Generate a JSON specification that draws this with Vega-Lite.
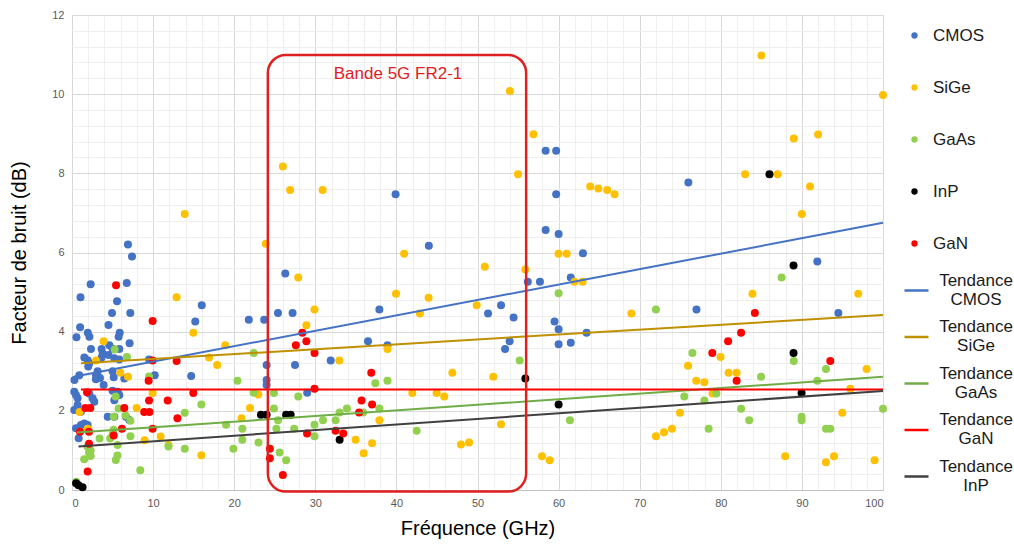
{
  "$schema": "https://vega.github.io/schema/vega-lite/v6.json",
  "autosize": {"type": "none"},
  "width": 811,
  "height": 475,
  "padding": {"left": 72, "top": 15, "right": 131, "bottom": 58},
  "background": "white",
  "config": {
    "view": {"stroke": null},
    "font": "Liberation Sans",
    "axis": {"labelFont": "Liberation Sans", "titleFont": "Liberation Sans"},
    "legend": {"labelFont": "Liberation Sans"}
  },
  "datasets": {
    "pts": [
      {"t":"CMOS","x":7.4,"y":5.9},{"t":"CMOS","x":6.9,"y":6.2},{"t":"CMOS","x":2.3,"y":5.2},{"t":"CMOS","x":6.75,"y":5.23},{"t":"CMOS","x":1.05,"y":4.87},{"t":"CMOS","x":5.55,"y":4.77},{"t":"CMOS","x":4.93,"y":4.47},{"t":"CMOS","x":7.19,"y":4.47},{"t":"CMOS","x":4.5,"y":4.17},{"t":"CMOS","x":1.0,"y":4.11},{"t":"CMOS","x":1.95,"y":3.97},{"t":"CMOS","x":2.15,"y":3.87},{"t":"CMOS","x":0.55,"y":3.86},{"t":"CMOS","x":5.88,"y":3.97},{"t":"CMOS","x":5.75,"y":3.87},{"t":"CMOS","x":7.1,"y":3.71},{"t":"CMOS","x":4.6,"y":3.66},{"t":"CMOS","x":5.0,"y":3.57},{"t":"CMOS","x":2.34,"y":3.56},{"t":"CMOS","x":3.65,"y":3.56},{"t":"CMOS","x":3.78,"y":3.45},{"t":"CMOS","x":3.65,"y":3.35},{"t":"CMOS","x":5.83,"y":3.56},{"t":"CMOS","x":1.52,"y":3.35},{"t":"CMOS","x":1.93,"y":3.28},{"t":"CMOS","x":2.13,"y":3.2},{"t":"CMOS","x":2.0,"y":3.12},{"t":"CMOS","x":5.22,"y":3.33},{"t":"CMOS","x":5.83,"y":3.3},{"t":"CMOS","x":4.51,"y":3.41},{"t":"CMOS","x":3.16,"y":3.0},{"t":"CMOS","x":2.96,"y":2.9},{"t":"CMOS","x":3.45,"y":2.83},{"t":"CMOS","x":0.9,"y":2.9},{"t":"CMOS","x":10.2,"y":2.9},{"t":"CMOS","x":5.0,"y":3.0},{"t":"CMOS","x":5.14,"y":2.85},{"t":"CMOS","x":6.45,"y":2.82},{"t":"CMOS","x":0.3,"y":2.78},{"t":"CMOS","x":2.95,"y":2.8},{"t":"CMOS","x":0.28,"y":2.48},{"t":"CMOS","x":0.49,"y":2.4},{"t":"CMOS","x":0.69,"y":2.32},{"t":"CMOS","x":2.13,"y":2.44},{"t":"CMOS","x":2.54,"y":2.32},{"t":"CMOS","x":2.75,"y":2.23},{"t":"CMOS","x":5.0,"y":2.51},{"t":"CMOS","x":5.63,"y":2.48},{"t":"CMOS","x":5.42,"y":2.36},{"t":"CMOS","x":5.22,"y":2.27},{"t":"CMOS","x":5.83,"y":2.4},{"t":"CMOS","x":3.9,"y":2.65},{"t":"CMOS","x":0.69,"y":2.15},{"t":"CMOS","x":0.28,"y":2.02},{"t":"CMOS","x":1.1,"y":1.98},{"t":"CMOS","x":4.4,"y":1.85},{"t":"CMOS","x":5.22,"y":1.85},{"t":"CMOS","x":6.65,"y":1.85},{"t":"CMOS","x":7.07,"y":1.77},{"t":"CMOS","x":0.49,"y":1.56},{"t":"CMOS","x":1.1,"y":1.64},{"t":"CMOS","x":1.52,"y":1.68},{"t":"CMOS","x":1.93,"y":1.64},{"t":"CMOS","x":0.82,"y":1.31},{"t":"CMOS","x":9.5,"y":3.3},
      {"t":"CMOS","x":14.7,"y":2.88},{"t":"CMOS","x":15.2,"y":4.26},{"t":"CMOS","x":16.0,"y":4.67},{"t":"CMOS","x":21.8,"y":4.3},{"t":"CMOS","x":23.7,"y":4.3},{"t":"CMOS","x":24.0,"y":3.16},{"t":"CMOS","x":24.0,"y":2.78},{"t":"CMOS","x":24.0,"y":2.65},{"t":"CMOS","x":25.4,"y":4.47},{"t":"CMOS","x":26.3,"y":5.47},{"t":"CMOS","x":27.2,"y":4.47},{"t":"CMOS","x":37.9,"y":4.56},{"t":"CMOS","x":36.5,"y":3.76},{"t":"CMOS","x":38.9,"y":3.66},{"t":"CMOS","x":27.5,"y":3.16},{"t":"CMOS","x":31.9,"y":3.27},{"t":"CMOS","x":29.0,"y":2.46},{"t":"CMOS","x":39.9,"y":7.47},{"t":"CMOS","x":44.0,"y":6.17},{"t":"CMOS","x":58.4,"y":8.57},{"t":"CMOS","x":59.7,"y":8.57},{"t":"CMOS","x":59.7,"y":7.47},{"t":"CMOS","x":58.4,"y":6.57},{"t":"CMOS","x":60.0,"y":6.47},{"t":"CMOS","x":63.0,"y":5.98},{"t":"CMOS","x":76.0,"y":7.77},{"t":"CMOS","x":56.2,"y":5.26},{"t":"CMOS","x":57.7,"y":5.26},{"t":"CMOS","x":61.5,"y":5.37},{"t":"CMOS","x":51.3,"y":4.46},{"t":"CMOS","x":52.9,"y":4.67},{"t":"CMOS","x":54.45,"y":4.36},{"t":"CMOS","x":59.5,"y":4.26},{"t":"CMOS","x":60.0,"y":4.06},{"t":"CMOS","x":53.96,"y":3.76},{"t":"CMOS","x":53.4,"y":3.56},{"t":"CMOS","x":60.0,"y":3.68},{"t":"CMOS","x":61.5,"y":3.72},{"t":"CMOS","x":63.45,"y":3.97},{"t":"CMOS","x":77.0,"y":4.56},{"t":"CMOS","x":91.9,"y":5.77},{"t":"CMOS","x":94.5,"y":4.47},
      {"t":"SiGe","x":13.9,"y":6.97},{"t":"SiGe","x":23.9,"y":6.22},{"t":"SiGe","x":26.0,"y":8.17},{"t":"SiGe","x":26.9,"y":7.58},{"t":"SiGe","x":30.9,"y":7.58},{"t":"SiGe","x":40.95,"y":5.97},{"t":"SiGe","x":54.0,"y":10.08},{"t":"SiGe","x":56.9,"y":8.99},{"t":"SiGe","x":55.0,"y":7.98},{"t":"SiGe","x":63.9,"y":7.67},{"t":"SiGe","x":64.9,"y":7.62},{"t":"SiGe","x":66.0,"y":7.58},{"t":"SiGe","x":66.9,"y":7.47},{"t":"SiGe","x":60.0,"y":5.97},{"t":"SiGe","x":61.0,"y":5.97},{"t":"SiGe","x":85.0,"y":10.98},{"t":"SiGe","x":100,"y":9.98},{"t":"SiGe","x":89.0,"y":8.88},{"t":"SiGe","x":92.0,"y":8.98},{"t":"SiGe","x":83.0,"y":7.98},{"t":"SiGe","x":87.0,"y":7.98},{"t":"SiGe","x":91.0,"y":7.67},{"t":"SiGe","x":90.0,"y":6.97},
      {"t":"SiGe","x":12.9,"y":4.87},{"t":"SiGe","x":14.96,"y":3.97},{"t":"SiGe","x":3.9,"y":3.76},{"t":"SiGe","x":2.96,"y":3.27},{"t":"SiGe","x":18.9,"y":3.66},{"t":"SiGe","x":16.9,"y":3.35},{"t":"SiGe","x":17.9,"y":3.16},{"t":"SiGe","x":5.96,"y":2.96},{"t":"SiGe","x":6.9,"y":2.86},{"t":"SiGe","x":9.94,"y":2.45},{"t":"SiGe","x":22.97,"y":2.41},{"t":"SiGe","x":0.94,"y":1.97},{"t":"SiGe","x":7.97,"y":2.07},{"t":"SiGe","x":21.95,"y":2.07},{"t":"SiGe","x":20.9,"y":1.81},{"t":"SiGe","x":1.93,"y":1.55},{"t":"SiGe","x":10.93,"y":1.35},{"t":"SiGe","x":8.95,"y":1.26},{"t":"SiGe","x":11.9,"y":1.14},{"t":"SiGe","x":15.95,"y":0.88},
      {"t":"SiGe","x":27.9,"y":5.37},{"t":"SiGe","x":39.95,"y":4.96},{"t":"SiGe","x":43.97,"y":4.86},{"t":"SiGe","x":29.9,"y":4.56},{"t":"SiGe","x":42.9,"y":4.46},{"t":"SiGe","x":49.9,"y":4.67},{"t":"SiGe","x":50.9,"y":5.64},{"t":"SiGe","x":28.9,"y":4.16},{"t":"SiGe","x":38.9,"y":3.56},{"t":"SiGe","x":32.96,"y":3.27},{"t":"SiGe","x":46.9,"y":2.96},{"t":"SiGe","x":41.96,"y":2.45},{"t":"SiGe","x":44.96,"y":2.45},{"t":"SiGe","x":45.9,"y":2.36},{"t":"SiGe","x":37.9,"y":1.76},{"t":"SiGe","x":34.97,"y":1.27},{"t":"SiGe","x":37.0,"y":1.18},{"t":"SiGe","x":35.96,"y":0.93},{"t":"SiGe","x":47.96,"y":1.15},{"t":"SiGe","x":48.96,"y":1.2},
      {"t":"SiGe","x":55.9,"y":5.57},{"t":"SiGe","x":61.97,"y":5.26},{"t":"SiGe","x":62.96,"y":5.26},{"t":"SiGe","x":68.97,"y":4.46},{"t":"SiGe","x":51.95,"y":2.86},{"t":"SiGe","x":52.9,"y":1.66},{"t":"SiGe","x":57.95,"y":0.85},{"t":"SiGe","x":58.9,"y":0.75},{"t":"SiGe","x":72.0,"y":1.36},{"t":"SiGe","x":73.0,"y":1.46},{"t":"SiGe","x":73.98,"y":1.55},{"t":"SiGe","x":74.97,"y":1.95},{"t":"SiGe","x":75.96,"y":3.14},{"t":"SiGe","x":76.97,"y":2.76},{"t":"SiGe","x":77.97,"y":2.72},{"t":"SiGe","x":83.9,"y":4.96},{"t":"SiGe","x":96.95,"y":4.96},{"t":"SiGe","x":79.97,"y":3.36},{"t":"SiGe","x":80.96,"y":2.96},{"t":"SiGe","x":81.95,"y":2.96},{"t":"SiGe","x":78.98,"y":2.44},{"t":"SiGe","x":97.98,"y":3.06},{"t":"SiGe","x":95.97,"y":2.56},{"t":"SiGe","x":94.98,"y":1.95},{"t":"SiGe","x":87.95,"y":0.85},{"t":"SiGe","x":92.97,"y":0.7},{"t":"SiGe","x":93.96,"y":0.85},{"t":"SiGe","x":98.96,"y":0.75},
      {"t":"GaAs","x":5.26,"y":3.55},{"t":"GaAs","x":6.78,"y":3.36},{"t":"GaAs","x":9.5,"y":2.87},{"t":"GaAs","x":22.4,"y":3.46},{"t":"GaAs","x":20.4,"y":2.76},{"t":"GaAs","x":22.4,"y":2.46},{"t":"GaAs","x":24.9,"y":2.45},{"t":"GaAs","x":15.95,"y":2.16},{"t":"GaAs","x":13.9,"y":1.95},{"t":"GaAs","x":5.38,"y":2.36},{"t":"GaAs","x":5.75,"y":2.06},{"t":"GaAs","x":6.6,"y":1.88},{"t":"GaAs","x":7.2,"y":1.75},{"t":"GaAs","x":5.14,"y":1.85},{"t":"GaAs","x":19.0,"y":1.65},{"t":"GaAs","x":21.0,"y":1.55},{"t":"GaAs","x":5.14,"y":1.52},{"t":"GaAs","x":3.4,"y":1.3},{"t":"GaAs","x":4.7,"y":1.3},{"t":"GaAs","x":5.0,"y":1.4},{"t":"GaAs","x":5.62,"y":1.14},{"t":"GaAs","x":2.3,"y":1.0},{"t":"GaAs","x":2.1,"y":0.94},{"t":"GaAs","x":2.3,"y":0.86},{"t":"GaAs","x":1.5,"y":0.78},{"t":"GaAs","x":5.6,"y":0.87},{"t":"GaAs","x":5.4,"y":0.76},{"t":"GaAs","x":8.42,"y":0.5},{"t":"GaAs","x":11.9,"y":1.1},{"t":"GaAs","x":13.9,"y":1.04},{"t":"GaAs","x":19.9,"y":1.04},{"t":"GaAs","x":21.0,"y":1.27},{"t":"GaAs","x":23.0,"y":1.2},{"t":"GaAs","x":0.53,"y":0.21},{"t":"GaAs","x":1.9,"y":1.1},{"t":"GaAs","x":7.2,"y":1.36},
      {"t":"GaAs","x":24.9,"y":2.06},{"t":"GaAs","x":27.9,"y":2.36},{"t":"GaAs","x":25.4,"y":1.76},{"t":"GaAs","x":25.2,"y":1.55},{"t":"GaAs","x":27.4,"y":1.55},{"t":"GaAs","x":29.9,"y":1.65},{"t":"GaAs","x":29.9,"y":1.36},{"t":"GaAs","x":30.95,"y":1.76},{"t":"GaAs","x":32.5,"y":1.76},{"t":"GaAs","x":33.0,"y":1.96},{"t":"GaAs","x":33.9,"y":2.06},{"t":"GaAs","x":35.9,"y":1.96},{"t":"GaAs","x":37.9,"y":2.06},{"t":"GaAs","x":37.4,"y":2.7},{"t":"GaAs","x":38.9,"y":2.76},{"t":"GaAs","x":42.5,"y":1.5},{"t":"GaAs","x":25.6,"y":0.95},{"t":"GaAs","x":26.4,"y":0.75},
      {"t":"GaAs","x":60.0,"y":4.97},{"t":"GaAs","x":72.0,"y":4.56},{"t":"GaAs","x":55.2,"y":3.27},{"t":"GaAs","x":61.4,"y":1.76},{"t":"GaAs","x":75.5,"y":2.36},{"t":"GaAs","x":76.5,"y":3.46},
      {"t":"GaAs","x":87.5,"y":5.37},{"t":"GaAs","x":89.0,"y":3.26},{"t":"GaAs","x":92.97,"y":3.06},{"t":"GaAs","x":84.96,"y":2.86},{"t":"GaAs","x":91.9,"y":2.76},{"t":"GaAs","x":79.45,"y":2.44},{"t":"GaAs","x":77.97,"y":2.26},{"t":"GaAs","x":82.5,"y":2.05},{"t":"GaAs","x":83.5,"y":1.76},{"t":"GaAs","x":89.96,"y":1.85},{"t":"GaAs","x":89.96,"y":1.76},{"t":"GaAs","x":78.5,"y":1.55},{"t":"GaAs","x":92.97,"y":1.55},{"t":"GaAs","x":93.5,"y":1.55},{"t":"GaAs","x":100,"y":2.05},
      {"t":"InP","x":0.5,"y":0.17},{"t":"InP","x":0.8,"y":0.12},{"t":"InP","x":1.3,"y":0.07},{"t":"InP","x":23.3,"y":1.9},{"t":"InP","x":24.0,"y":1.9},{"t":"InP","x":26.4,"y":1.9},{"t":"InP","x":26.96,"y":1.9},{"t":"InP","x":33.0,"y":1.27},{"t":"InP","x":55.9,"y":2.82},{"t":"InP","x":60.0,"y":2.16},{"t":"InP","x":86.0,"y":7.98},{"t":"InP","x":88.97,"y":5.67},{"t":"InP","x":88.97,"y":3.46},{"t":"InP","x":89.96,"y":2.45},
      {"t":"GaN","x":5.43,"y":5.17},{"t":"GaN","x":9.94,"y":4.27},{"t":"GaN","x":12.9,"y":3.26},{"t":"GaN","x":9.94,"y":3.27},{"t":"GaN","x":9.45,"y":2.76},{"t":"GaN","x":1.85,"y":2.47},{"t":"GaN","x":14.96,"y":2.45},{"t":"GaN","x":11.8,"y":2.26},{"t":"GaN","x":9.5,"y":2.26},{"t":"GaN","x":1.64,"y":2.07},{"t":"GaN","x":2.26,"y":2.07},{"t":"GaN","x":6.45,"y":2.07},{"t":"GaN","x":8.9,"y":1.97},{"t":"GaN","x":9.55,"y":1.97},{"t":"GaN","x":13.0,"y":1.81},{"t":"GaN","x":6.16,"y":1.55},{"t":"GaN","x":9.94,"y":1.55},{"t":"GaN","x":0.98,"y":1.47},{"t":"GaN","x":2.1,"y":1.47},{"t":"GaN","x":5.14,"y":1.38},{"t":"GaN","x":2.1,"y":1.17},{"t":"GaN","x":1.93,"y":0.47},{"t":"GaN","x":24.4,"y":1.04},{"t":"GaN","x":24.4,"y":0.8},
      {"t":"GaN","x":28.4,"y":3.97},{"t":"GaN","x":28.9,"y":3.76},{"t":"GaN","x":27.6,"y":3.66},{"t":"GaN","x":29.9,"y":3.46},{"t":"GaN","x":29.9,"y":2.56},{"t":"GaN","x":36.9,"y":2.96},{"t":"GaN","x":35.7,"y":2.26},{"t":"GaN","x":37.0,"y":2.16},{"t":"GaN","x":35.4,"y":1.96},{"t":"GaN","x":32.5,"y":1.5},{"t":"GaN","x":33.45,"y":1.43},{"t":"GaN","x":28.98,"y":1.43},{"t":"GaN","x":26.0,"y":0.38},
      {"t":"GaN","x":84.2,"y":4.47},{"t":"GaN","x":82.5,"y":3.97},{"t":"GaN","x":80.9,"y":3.76},{"t":"GaN","x":78.95,"y":3.46},{"t":"GaN","x":81.95,"y":2.76},{"t":"GaN","x":93.5,"y":3.26}
    ],
    "trends": [
      {"trend":"Tendance CMOS","x":0.2,"y":2.86},{"trend":"Tendance CMOS","x":100,"y":6.75},
      {"trend":"Tendance SiGe","x":1.1,"y":3.2},{"trend":"Tendance SiGe","x":100,"y":4.42},
      {"trend":"Tendance GaAs","x":0.6,"y":1.45},{"trend":"Tendance GaAs","x":100,"y":2.86},
      {"trend":"Tendance GaN","x":1.1,"y":2.54},{"trend":"Tendance GaN","x":100,"y":2.54},
      {"trend":"Tendance InP","x":0.8,"y":1.1},{"trend":"Tendance InP","x":100,"y":2.5}
    ],
    "band": [{"x":24.15,"x2":56.0,"y":-0.04,"y2":10.99,"label":"Bande 5G FR2-1","lx":40.2,"ly":10.5}]
  },
  "layer": [
    {
      "data": {"name": "pts"},
      "mark": {"type": "circle", "size": 64, "opacity": 1},
      "encoding": {
        "x": {
          "field": "x", "type": "quantitative",
          "scale": {"domain": [0, 100], "nice": false, "zero": false},
          "axis": {
            "title": "Fréquence (GHz)",
            "titleFontSize": 20, "titleFontWeight": "normal", "titleColor": "#000000", "titlePadding": 10,
            "values": [0,2,4,6,8,10,12,14,16,18,20,22,24,26,28,30,32,34,36,38,40,42,44,46,48,50,52,54,56,58,60,62,64,66,68,70,72,74,76,78,80,82,84,86,88,90,92,94,96,98,100],
            "tickCount": 200,
            "labelExpr": "datum.value % 10 === 0 ? '' + round(datum.value) : ''",
            "labelFontSize": 11, "labelColor": "#595959", "labelPadding": 7, "labelOverlap": false,
            "ticks": false, "domainColor": "#BFBFBF", "domainWidth": 1,
            "grid": true,
            "gridColor": {"condition": {"test": "datum.value % 10 === 0", "value": "#D9D9D9"}, "value": "#EFEFEF"},
            "gridWidth": 1
          }
        },
        "y": {
          "field": "y", "type": "quantitative",
          "scale": {"domain": [0, 12], "nice": false},
          "axis": {
            "title": "Facteur de bruit (dB)",
            "titleFontSize": 20, "titleFontWeight": "normal", "titleColor": "#000000", "titlePadding": 22,
            "values": [0,0.4,0.8,1.2,1.6,2,2.4,2.8,3.2,3.6,4,4.4,4.8,5.2,5.6,6,6.4,6.8,7.2,7.6,8,8.4,8.8,9.2,9.6,10,10.4,10.8,11.2,11.6,12],
            "tickCount": 200,
            "labelExpr": "(datum.value % 2 < 0.01 || datum.value % 2 > 1.99) ? '' + round(datum.value) : ''",
            "labelFontSize": 11, "labelColor": "#595959", "labelPadding": 8, "labelOverlap": false,
            "ticks": false, "domain": false,
            "grid": true,
            "gridColor": {"condition": {"test": "datum.value % 2 < 0.01 || datum.value % 2 > 1.99", "value": "#D9D9D9"}, "value": "#EFEFEF"},
            "gridWidth": 1
          }
        },
        "color": {
          "field": "t", "type": "nominal",
          "scale": {"domain": ["CMOS","SiGe","GaAs","InP","GaN"], "range": ["#4472C4","#FFC000","#92D050","#000000","#FF0000"]},
          "legend": {
            "title": null, "orient": "none", "legendX": 834, "legendY": 12,
            "symbolType": "circle", "symbolSize": 40, "symbolStrokeWidth": 0,
            "labelFontSize": 17, "labelColor": "#1A1A1A", "labelOffset": 10,
            "rowPadding": 34, "padding": 0
          }
        }
      }
    },
    {
      "data": {"name": "trends"},
      "mark": {"type": "line", "strokeWidth": 2},
      "encoding": {
        "x": {"field": "x", "type": "quantitative"},
        "y": {"field": "y", "type": "quantitative"},
        "detail": {"field": "trend"},
        "stroke": {
          "field": "trend", "type": "nominal",
          "scale": {"domain": ["Tendance CMOS","Tendance SiGe","Tendance GaAs","Tendance GaN","Tendance InP"], "range": ["#4472C4","#BF9000","#70AD47","#FF0000","#404040"]},
          "legend": {
            "title": null, "orient": "none", "legendX": 831, "legendY": 262,
            "symbolType": "stroke", "symbolSize": 576, "symbolStrokeWidth": 2.5,
            "labelFontSize": 17, "labelColor": "#1A1A1A", "labelOffset": 46, "labelAlign": "center",
            "labelBaseline": "line-bottom",
            "labelExpr": "split(datum.label, ' ')",
            "rowPadding": 9.5, "padding": 0
          }
        }
      }
    },
    {
      "data": {"name": "band"},
      "mark": {"type": "rect", "fill": null, "fillOpacity": 0, "stroke": "#E0201E", "strokeWidth": 2.5, "cornerRadius": 18},
      "encoding": {
        "x": {"field": "x", "type": "quantitative"},
        "x2": {"field": "x2"},
        "y": {"field": "y", "type": "quantitative"},
        "y2": {"field": "y2"}
      }
    },
    {
      "data": {"name": "band"},
      "mark": {"type": "text", "fontSize": 17, "color": "#E0201E", "font": "Liberation Sans"},
      "encoding": {
        "x": {"field": "lx", "type": "quantitative"},
        "y": {"field": "ly", "type": "quantitative"},
        "text": {"field": "label"}
      }
    }
  ]
}
